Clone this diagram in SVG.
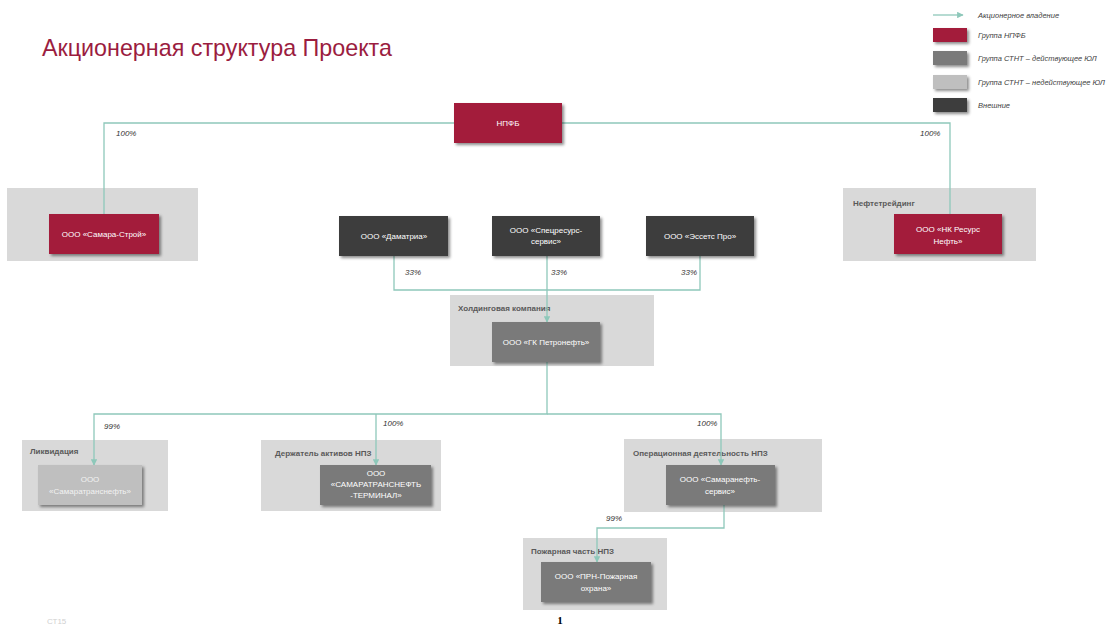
<svg xmlns="http://www.w3.org/2000/svg" width="1112" height="630" viewBox="0 0 1112 630">
<style>
text{font-family:"Liberation Sans","Noto Sans",Arial,sans-serif}
.grp{fill:#d9d9d9}
.gl{font-size:8px;font-weight:bold;fill:#595959}
.n{filter:url(#sh)}
.red{fill:#a31a3a}
.dark{fill:#3d3d3d}
.gray{fill:#7a7a7a}
.light{fill:#bfbfbf}
.nt{font-size:8px;fill:#ffffff;text-anchor:middle}
.ntl{font-size:8px;fill:#f2f2f2;text-anchor:middle}
.pct{font-size:8px;font-style:italic;fill:#333333}
.ln{fill:none;stroke:#8ec8ba;stroke-width:1.3}
.lg{font-size:7.5px;font-style:italic;fill:#404040}
</style>
<defs>
<filter id="sh" x="-10%" y="-10%" width="130%" height="140%">
<feDropShadow dx="2" dy="2" stdDeviation="1.5" flood-color="#000000" flood-opacity="0.45"/>
</filter>
<marker id="ar" viewBox="0 0 10 10" refX="9" refY="5" markerWidth="5" markerHeight="5" orient="auto">
<path d="M0,0 L10,5 L0,10 z" fill="#8ec8ba"/>
</marker>
</defs>
<rect width="1112" height="630" fill="#ffffff"/>

<text x="42" y="56" font-size="24" fill="#9b1d3f" textLength="350" lengthAdjust="spacingAndGlyphs">Акционерная структура Проекта</text>

<g id="legend">
<line x1="933" y1="15" x2="963" y2="15" class="ln" marker-end="url(#ar)"/>
<text x="978" y="18" class="lg">Акционерное владение</text>
<rect x="933" y="28" width="34" height="14" class="red n"/>
<text x="978" y="38" class="lg">Группа НПФБ</text>
<rect x="933" y="51" width="34" height="14" class="gray n"/>
<text x="978" y="61" class="lg">Группа СТНТ – действующее ЮЛ</text>
<rect x="933" y="75" width="34" height="14" class="light n"/>
<text x="978" y="85" class="lg">Группа СТНТ – недействующее ЮЛ</text>
<rect x="933" y="98" width="34" height="14" class="dark n"/>
<text x="978" y="108" class="lg">Внешние</text>
</g>

<g id="groups">
<rect x="7" y="188" width="191" height="73" class="grp"/>
<rect x="843" y="188" width="193" height="73" class="grp"/>
<text x="853" y="206" class="gl">Нефтетрейдинг</text>
<rect x="450" y="295" width="204" height="71" class="grp"/>
<text x="458" y="311" class="gl">Холдинговая компания</text>
<rect x="22" y="440" width="146" height="71" class="grp"/>
<text x="30" y="454" class="gl">Ликвидация</text>
<rect x="261" y="440" width="180" height="71" class="grp"/>
<text x="275" y="456" class="gl">Держатель активов НПЗ</text>
<rect x="624" y="439" width="198" height="73" class="grp"/>
<text x="633" y="456" class="gl">Операционная деятельность НПЗ</text>
<rect x="523" y="538" width="144" height="72" class="grp"/>
<text x="531" y="554" class="gl">Пожарная часть НПЗ</text>
</g>

<g id="connectors">
<polyline points="454,123 104,123 104,226" class="ln" marker-end="url(#ar)"/>
<polyline points="562,123 950,123 950,226" class="ln" marker-end="url(#ar)"/>
<polyline points="394,256 394,290 700,290 700,256" class="ln"/>
<line x1="547" y1="256" x2="547" y2="322" class="ln" marker-end="url(#ar)"/>
<polyline points="547,362 547,414 94,414 94,465" class="ln" marker-end="url(#ar)"/>
<line x1="376" y1="414" x2="376" y2="465" class="ln" marker-end="url(#ar)"/>
<polyline points="547,414 721,414 721,465" class="ln" marker-end="url(#ar)"/>
<polyline points="724,505 724,528 597,528 597,562" class="ln" marker-end="url(#ar)"/>
<text x="116" y="136" class="pct">100%</text>
<text x="920" y="136" class="pct">100%</text>
<text x="405" y="275" class="pct">33%</text>
<text x="551" y="275" class="pct">33%</text>
<text x="681" y="275" class="pct">33%</text>
<text x="104" y="429" class="pct">99%</text>
<text x="383" y="426" class="pct">100%</text>
<text x="697" y="426" class="pct">100%</text>
<text x="606" y="521" class="pct">99%</text>
</g>

<g id="npfb"><rect x="454" y="103" width="108" height="40" class="red n"/><text x="508" y="126" class="nt">НПФБ</text></g>
<g id="samara-stroy"><rect x="49" y="214" width="110" height="40" class="red n"/><text x="104" y="237" class="nt">ООО «Самара-Строй»</text></g>
<g id="nk-resurs"><rect x="894" y="214" width="108" height="40" class="red n"/><text x="948" y="232" class="nt">ООО «НК Ресурс</text><text x="948" y="244" class="nt">Нефть»</text></g>
<g id="damatria"><rect x="339" y="216" width="109" height="40" class="dark n"/><text x="394" y="239" class="nt">ООО «Даматриа»</text></g>
<g id="specresurs"><rect x="492" y="216" width="108" height="40" class="dark n"/><text x="546" y="233" class="nt">ООО «Спецресурс-</text><text x="546" y="244" class="nt">сервис»</text></g>
<g id="essets"><rect x="646" y="216" width="108" height="40" class="dark n"/><text x="700" y="239" class="nt">ООО «Эссетс Про»</text></g>
<g id="petroneft"><rect x="492" y="322" width="108" height="40" class="gray n"/><text x="546" y="345" class="nt">ООО «ГК Петронефть»</text></g>
<g id="samaratransneft"><rect x="38" y="465" width="104" height="40" class="light n"/><text x="90" y="482" class="ntl">ООО</text><text x="90" y="494" class="ntl">«Самаратранснефть»</text></g>
<g id="terminal"><rect x="320" y="465" width="111" height="40" class="gray n"/><text x="376" y="476" class="nt">ООО</text><text x="376" y="487" class="nt">«САМАРАТРАНСНЕФТЬ</text><text x="376" y="498" class="nt">-ТЕРМИНАЛ»</text></g>
<g id="samaraneft-servis"><rect x="666" y="465" width="109" height="40" class="gray n"/><text x="720" y="482" class="nt">ООО «Самаранефть-</text><text x="720" y="494" class="nt">сервис»</text></g>
<g id="prn"><rect x="541" y="562" width="110" height="40" class="gray n"/><text x="596" y="579" class="nt">ООО «ПРН-Пожарная</text><text x="596" y="591" class="nt">охрана»</text></g>

<text x="560" y="624" font-size="11" font-weight="bold" text-anchor="middle" style="font-family:'Liberation Serif',serif" fill="#000000">1</text>
<text x="47" y="624" font-size="8" fill="#d0d0d0">СТ15</text>
</svg>
